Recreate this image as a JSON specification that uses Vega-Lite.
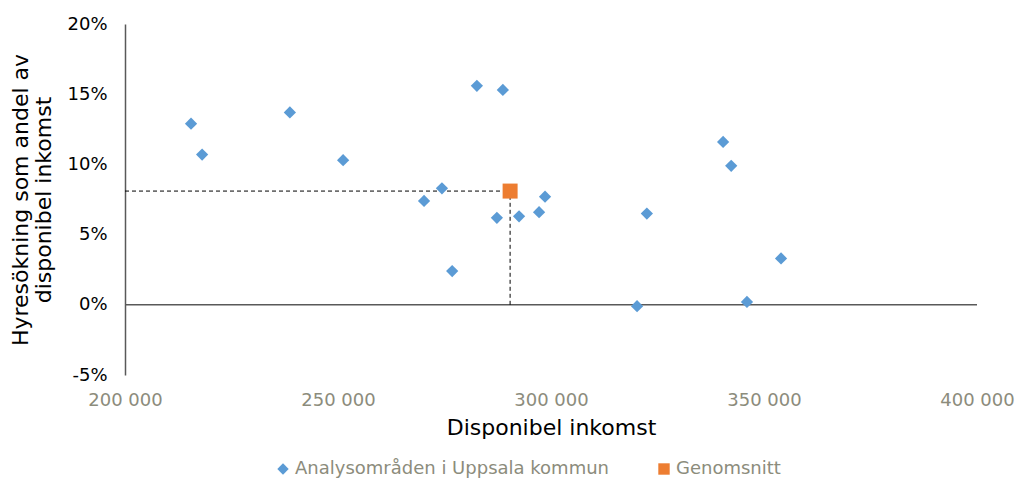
{
  "$schema": "https://vega.github.io/schema/vega-lite/v6.json",
  "autosize": {"type": "none"},
  "width": 852,
  "height": 351,
  "padding": {"left": 125, "top": 24, "right": 44, "bottom": 104},
  "background": "white",
  "config": {
    "locale": {"number": {"decimal": ",", "thousands": " ", "grouping": [3], "currency": ["", " kr"], "minus": "-"}},
    "font": "DejaVu Sans",
    "view": {"stroke": null}
  },
  "datasets": {
    "omraden": [
      {"serie": "Analysområden i Uppsala kommun", "inkomst": 215500, "hyresokning": 0.129},
      {"serie": "Analysområden i Uppsala kommun", "inkomst": 218100, "hyresokning": 0.107},
      {"serie": "Analysområden i Uppsala kommun", "inkomst": 238700, "hyresokning": 0.137},
      {"serie": "Analysområden i Uppsala kommun", "inkomst": 251200, "hyresokning": 0.103},
      {"serie": "Analysområden i Uppsala kommun", "inkomst": 270200, "hyresokning": 0.074},
      {"serie": "Analysområden i Uppsala kommun", "inkomst": 274400, "hyresokning": 0.083},
      {"serie": "Analysområden i Uppsala kommun", "inkomst": 276800, "hyresokning": 0.024},
      {"serie": "Analysområden i Uppsala kommun", "inkomst": 282600, "hyresokning": 0.156},
      {"serie": "Analysområden i Uppsala kommun", "inkomst": 288700, "hyresokning": 0.153},
      {"serie": "Analysområden i Uppsala kommun", "inkomst": 287300, "hyresokning": 0.062},
      {"serie": "Analysområden i Uppsala kommun", "inkomst": 292500, "hyresokning": 0.063},
      {"serie": "Analysområden i Uppsala kommun", "inkomst": 297200, "hyresokning": 0.066},
      {"serie": "Analysområden i Uppsala kommun", "inkomst": 298600, "hyresokning": 0.077},
      {"serie": "Analysområden i Uppsala kommun", "inkomst": 320200, "hyresokning": -0.001},
      {"serie": "Analysområden i Uppsala kommun", "inkomst": 322500, "hyresokning": 0.065},
      {"serie": "Analysområden i Uppsala kommun", "inkomst": 340400, "hyresokning": 0.116},
      {"serie": "Analysområden i Uppsala kommun", "inkomst": 342300, "hyresokning": 0.099},
      {"serie": "Analysområden i Uppsala kommun", "inkomst": 346000, "hyresokning": 0.002},
      {"serie": "Analysområden i Uppsala kommun", "inkomst": 354000, "hyresokning": 0.033}
    ],
    "snitt": [
      {"serie": "Genomsnitt", "inkomst": 290400, "hyresokning": 0.081}
    ],
    "hjalplinjer": [
      {"x": 200000, "x2": 290400, "y": 0.081, "y2": 0.081},
      {"x": 290400, "x2": 290400, "y": 0, "y2": 0.081}
    ],
    "nollinje": [
      {"x": 200000, "x2": 400000, "y": 0}
    ]
  },
  "layer": [
    {
      "data": {"name": "nollinje"},
      "mark": {"type": "rule", "color": "#595959", "strokeWidth": 1.5},
      "encoding": {
        "x": {"field": "x", "type": "quantitative"},
        "x2": {"field": "x2"},
        "y": {"field": "y", "type": "quantitative"}
      }
    },
    {
      "data": {"name": "hjalplinjer"},
      "mark": {"type": "rule", "color": "#000000", "strokeWidth": 1, "strokeDash": [4, 3]},
      "encoding": {
        "x": {"field": "x", "type": "quantitative"},
        "x2": {"field": "x2"},
        "y": {"field": "y", "type": "quantitative"},
        "y2": {"field": "y2"}
      }
    },
    {
      "data": {"name": "omraden"},
      "mark": {"type": "point", "filled": true, "opacity": 1, "size": 150},
      "encoding": {
        "x": {
          "field": "inkomst", "type": "quantitative",
          "scale": {"domain": [200000, 400000], "nice": false, "zero": false},
          "axis": {
            "title": "Disponibel inkomst",
            "values": [200000, 250000, 300000, 350000, 400000],
            "format": ",.0f",
            "domain": false, "ticks": false, "grid": false, "labelFlush": false,
            "labelColor": "#8C8C7C", "labelFontSize": 18, "labelPadding": 16,
            "titleFontSize": 22, "titleFontWeight": "normal", "titleColor": "#000000",
            "titlePadding": 8
          }
        },
        "y": {
          "field": "hyresokning", "type": "quantitative",
          "scale": {"domain": [-0.05, 0.2], "nice": false, "zero": false},
          "axis": {
            "title": ["Hyresökning som andel av", "disponibel inkomst"],
            "values": [-0.05, 0, 0.05, 0.1, 0.15, 0.2],
            "format": ".0%",
            "domain": true, "domainColor": "#595959", "domainWidth": 1.5,
            "ticks": false, "grid": false,
            "labelColor": "#000000", "labelFontSize": 18, "labelPadding": 18,
            "titleFontSize": 22, "titleFontWeight": "normal", "titleColor": "#000000",
            "titlePadding": 11, "titleLineHeight": 23
          }
        },
        "color": {
          "field": "serie", "type": "nominal",
          "scale": {"domain": ["Analysområden i Uppsala kommun", "Genomsnitt"], "range": ["#5B9BD5", "#ED7D31"]},
          "legend": {
            "title": null, "orient": "none", "direction": "horizontal",
            "legendX": 149, "legendY": 436,
            "labelColor": "#8C8C7C", "labelFontSize": 18, "labelLimit": 500, "columnPadding": 46,
            "symbolSize": 130, "symbolOpacity": 1, "symbolStrokeWidth": 0, "labelOffset": 3
          }
        },
        "shape": {
          "field": "serie", "type": "nominal",
          "scale": {"domain": ["Analysområden i Uppsala kommun", "Genomsnitt"], "range": ["diamond", "square"]},
          "legend": null
        }
      }
    },
    {
      "data": {"name": "snitt"},
      "mark": {"type": "point", "filled": true, "opacity": 1, "size": 225},
      "encoding": {
        "x": {"field": "inkomst", "type": "quantitative"},
        "y": {"field": "hyresokning", "type": "quantitative"},
        "color": {"field": "serie", "type": "nominal"},
        "shape": {"field": "serie", "type": "nominal"}
      }
    }
  ]
}
